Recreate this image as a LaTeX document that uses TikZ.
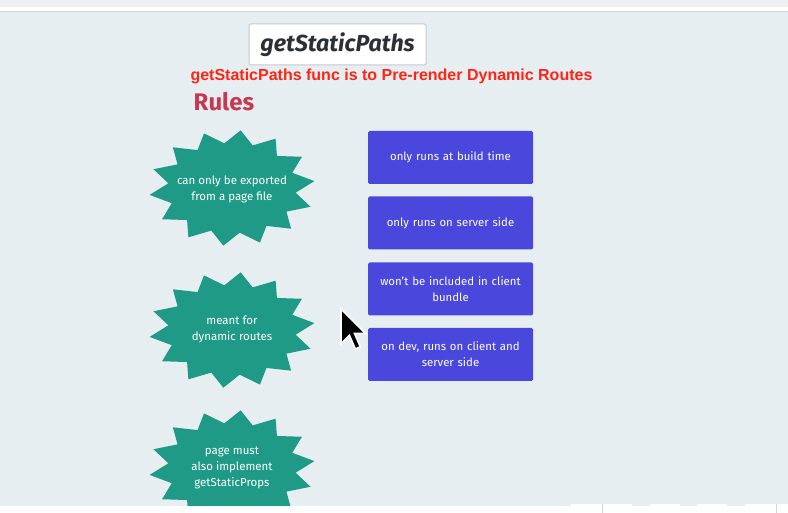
\documentclass[tikz,border=0pt]{standalone}
\usepackage{fontspec}
\setmainfont{Fira Sans}
\newfontfamily\arialfont{Liberation Sans}
\usetikzlibrary{positioning}
\definecolor{bgc}{HTML}{E6EEF1}
\definecolor{topc}{HTML}{EFF0F2}
\definecolor{linec}{HTML}{D3D6D8}
\definecolor{borderc}{HTML}{C5C9CC}
\definecolor{tealc}{HTML}{1F9A86}
\definecolor{boxc}{HTML}{4A47DC}
\definecolor{redc}{HTML}{FF2414}
\definecolor{rulesc}{HTML}{C43A50}
\definecolor{titlec}{HTML}{2A3036}
\tikzset{
  rulebox/.style={fill=boxc, draw=none, rounded corners=1.5pt, minimum width=165pt, minimum height=53pt,
    text width=155pt, align=center, text=white, font=\fontsize{11.4}{16}\selectfont, inner sep=0pt},
  bursttext/.style={text=white, align=center, font=\fontsize{11.5}{16}\selectfont, inner sep=0pt},
  burstfill/.style={fill=tealc, draw=none},
}
\newcommand{\myburst}[2]{%
  \fill[burstfill] plot[samples at={0,1,...,27}, variable=\k]
    ({#1 + (mod(\k,2)==0 ? 83 : 64)*cos(\k*360/28 + 96)}, {#2 + (mod(\k,2)==0 ? 58 : 45)*sin(\k*360/28 + 96)}) -- cycle;}
\begin{document}
\begin{tikzpicture}[x=1pt, y=-1pt]
\useasboundingbox (0,0) rectangle (788,513);
% background strips
\fill[bgc] (0,0) rectangle (788,513);
\fill[topc] (0,0) rectangle (788,7);
\fill[white] (0,7) rectangle (788,11);
\draw[linec, line width=1pt] (0,11.5) -- (788,11.5);
% title
\node[draw=borderc, line width=1pt, fill=white, rounded corners=1.5pt, minimum width=177pt, minimum height=41pt, inner sep=0pt,
  text=titlec, font=\fontsize{23.2}{25}\selectfont\bfseries\itshape] (title) at (337.5,44.5) {getStaticPaths};
\node[text=redc, font=\arialfont\fontsize{16}{18}\selectfont\bfseries, inner sep=0pt] (sub) at (391.5,76) {getStaticPaths func is to Pre-render Dynamic Routes};
\node[text=rulesc, font=\fontsize{24}{26}\selectfont\bfseries, inner sep=0pt, anchor=west] (rules) at (193.5,102) {Rules};
% bursts
\myburst{232}{188}
\node[bursttext] (b1) at (232,189) {can only be exported\\from a page file};
\myburst{232}{330}
\node[bursttext] (b2) at (232,329) {meant for\\dynamic routes};
\myburst{232}{468}
\node[bursttext] (b3) at (232,468) {page must\\also implement\\getStaticProps};
% boxes
\node[rulebox] (r1) at (450.5,157.5) {only runs at build time};
\node[rulebox] (r2) at (450.5,223) {only runs on server side};
\node[rulebox] (r3) at (450.5,289) {won't be included in client\\bundle};
\node[rulebox] (r4) at (450.5,354.5) {on dev, runs on client and\\server side};
% cursor
\begin{scope}[shift={(341,309)}, scale=2.1]
\filldraw[fill=black, draw=white, line width=1.6pt, line join=miter]
  (0,0) -- (0,16.5) -- (4,12.5) -- (6.8,19) -- (9.2,18) -- (6.4,11.6) -- (11.6,11.6) -- cycle;
\end{scope}
% bottom strip
\fill[white] (0,506) rectangle (788,513);
\fill[white] (571,504) rectangle (632,513);
\fill[white] (650,504) rectangle (680,513);
\fill[white] (697,504) rectangle (727,513);
\fill[white] (745,504) rectangle (788,513);
\draw[linec] (602,504) -- (602,513);
\draw[linec] (776,504) -- (776,513);
\end{tikzpicture}
\end{document}
